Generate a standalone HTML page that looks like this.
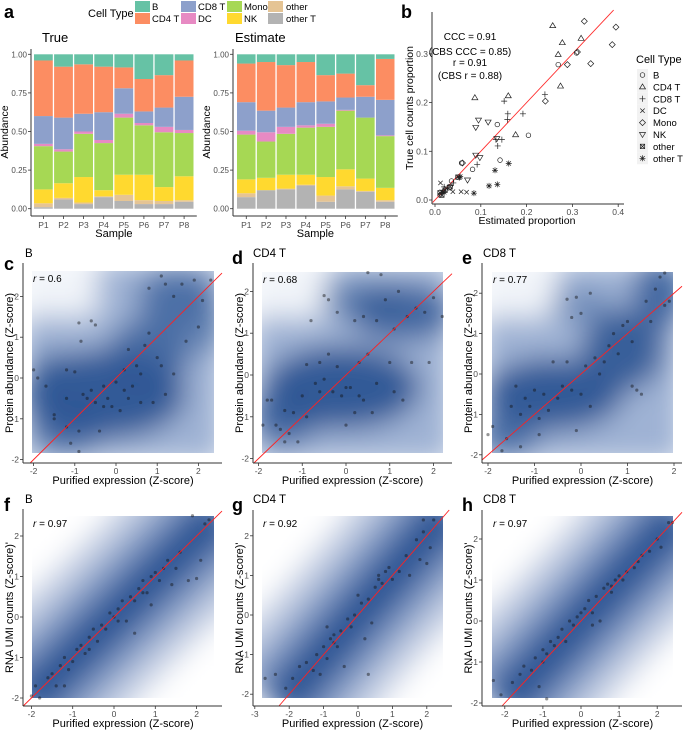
<!DOCTYPE html>
<html><head><meta charset="utf-8">
<style>
html,body{margin:0;padding:0;background:#fff;overflow:hidden;width:683px;height:732px;}
svg{display:block;font-family:"Liberation Sans",Arial,sans-serif;overflow:hidden;}
</style></head>
<body>
<svg id="fig" width="683" height="732" viewBox="0 0 683 732" xmlns="http://www.w3.org/2000/svg">
<defs>
<filter id="blur" filterUnits="userSpaceOnUse" x="0" y="0" width="683" height="732"><feGaussianBlur stdDeviation="14"/></filter>
</defs>
</svg>
<script>
// ---------- Panel a data ----------
const cellTypes = ["other T","other","NK","Mono","DC","CD8 T","CD4 T","B"];
const cellColors = ["#b3b3b3","#e5c494","#ffd92f","#a6d854","#e78ac3","#8da0cb","#fc8d62","#66c2a5"];
const samples = ["P1","P2","P3","P4","P5","P6","P7","P8"];
const trueCum = [
 [0.01,0.035,0.125,0.405,0.42,0.60,0.96,1],
 [0.06,0.07,0.165,0.37,0.385,0.59,0.92,1],
 [0.03,0.04,0.205,0.485,0.50,0.615,0.935,1],
 [0.075,0.08,0.12,0.425,0.445,0.625,0.92,1],
 [0.05,0.09,0.22,0.59,0.615,0.78,0.915,1],
 [0.03,0.055,0.22,0.54,0.555,0.63,0.84,1],
 [0.03,0.05,0.14,0.495,0.53,0.655,0.865,1],
 [0.045,0.055,0.21,0.49,0.51,0.725,0.96,1]];
const estCum = [
 [0.075,0.10,0.19,0.48,0.505,0.69,0.94,1],
 [0.12,0.12,0.20,0.435,0.495,0.635,0.95,1],
 [0.125,0.13,0.22,0.485,0.53,0.655,0.93,1],
 [0.15,0.155,0.22,0.525,0.54,0.69,0.95,1],
 [0.045,0.085,0.205,0.53,0.55,0.695,0.865,1],
 [0.125,0.145,0.255,0.635,0.64,0.72,0.875,1],
 [0.11,0.115,0.195,0.59,0.59,0.725,0.80,1],
 [0.045,0.055,0.135,0.47,0.475,0.705,0.97,1]];
const barTicks = [0,0.25,0.5,0.75,1];
const barTickLabels = ["0.00","0.25","0.50","0.75","1.00"];
// ---------- Panel b data ----------
const bB = [[0.136,0.155],[0.204,0.133],[0.142,0.082],[0.082,0.063],[0.036,0.039],[0.018,0.017],[0.011,0.010],[0.269,0.278],[0.309,0.302],[0.058,0.076]];
const bCD4 = [[0.257,0.358],[0.319,0.332],[0.278,0.323],[0.269,0.299],[0.274,0.234],[0.087,0.210],[0.160,0.214],[0.176,0.134]];
const bCD8 = [[0.240,0.217],[0.151,0.203],[0.159,0.177],[0.158,0.165],[0.192,0.177],[0.133,0.124],[0.146,0.124],[0.137,0.111],[0.092,0.073],[0.040,0.035],[0.020,0.027]];
const bDC = [[0.012,0.035],[0.057,0.017],[0.069,0.016],[0.039,0.017],[0.015,0.017],[0.025,0.024]];
const bMono = [[0.326,0.367],[0.395,0.355],[0.387,0.319],[0.311,0.304],[0.340,0.280],[0.289,0.278],[0.241,0.203],[0.060,0.076]];
const bNK = [[0.095,0.164],[0.116,0.160],[0.089,0.149],[0.089,0.092],[0.098,0.087],[0.135,0.126],[0.071,0.041],[0.033,0.026]];
const bOther = [[0.015,0.010],[0.022,0.020],[0.033,0.027],[0.011,0.015],[0.050,0.047]];
const bOtherT = [[0.161,0.075],[0.131,0.061],[0.136,0.032],[0.118,0.029],[0.085,0.014],[0.055,0.048],[0.053,0.046],[0.020,0.016]];
const bTicks = [0,0.1,0.2,0.3,0.4];
const bTickLabels = ["0.0","0.1","0.2","0.3","0.4"];
const bLegendLabels = ["B","CD4 T","CD8 T","DC","Mono","NK","other","other T"];
// ---------- Density panel data ----------
const ptsC = [[-2,0.2],[-1.9,0],[-1.7,-0.2],[-1.5,-0.9],[-1.5,-1],[-1.2,-1.2],[-1.1,-1.6],[-0.9,-1.8],[-0.9,-1.3],[-1.2,0.2],[-1,0.15],[-0.9,1.35],[-0.85,0.9],[-0.6,1.4],[-0.5,1.3],[-0.7,-0.5],[-0.6,-0.3],[-0.5,-0.6],[-0.3,-0.2],[-0.2,-0.5],[0,-0.1],[0.1,-0.8],[0.2,0.2],[0.3,-0.5],[0.4,-0.2],[0.5,0.3],[0.6,-0.6],[0.7,0.8],[0.8,1.1],[0.9,-0.6],[1,0.5],[1.1,0.3],[1.2,-0.4],[1.4,0.1],[0.8,2.2],[1.1,2.5],[1.2,2.3],[1.4,2.0],[1.6,2.3],[1.9,2.4],[2.1,1.9],[2.3,2.4],[2,1.25],[1.7,0.9],[-0.4,-1.3],[-1.2,-0.5],[0.3,0.7],[0.6,0.1],[-0.1,-0.7],[-0.8,-0.4],[-0.3,-0.7],[0.2,-0.3]];
const ptsD = [[-1.9,-1.2],[-1.8,-0.6],[-1.7,-0.6],[-1.6,-1.2],[-1.5,-1.3],[-1.4,-1.6],[-1.4,-0.85],[-1.3,-1.4],[-1.2,-0.9],[-1.1,-1.6],[-1,-0.5],[-0.9,-1.0],[-0.9,0.25],[-0.7,-0.2],[-0.6,0.3],[-0.5,-0.1],[-0.4,0.5],[-0.3,-0.4],[-0.2,0.2],[-0.1,-0.5],[0,-1.2],[0.1,-0.3],[0.2,-0.9],[0.3,0.3],[0.4,-0.6],[0.5,0.5],[0.6,-0.9],[0.7,-0.2],[1,0.3],[1.1,-0.4],[1.3,-0.6],[1.5,0.3],[1.9,0.3],[-0.8,1.3],[-0.5,1.9],[-0.4,1.8],[0.2,1.3],[0.5,2.45],[0.8,2.4],[0.9,1.8],[1.2,2.0],[1.4,1.4],[1.6,1.6],[1.8,1.5],[2.0,1.85],[2.2,1.4],[0.4,1.4],[0.7,1.3],[-0.2,1.5],[1.1,1.1],[-0.6,-0.4],[0.0,-0.3],[0.3,-0.5]];
const ptsE = [[-2,-1.5],[-1.9,-1.3],[-1.7,-1.9],[-1.6,-1.6],[-1.5,-0.8],[-1.4,-0.3],[-1.3,-1.0],[-1.2,-0.6],[-1.1,-0.8],[-1,-0.4],[-0.9,-1.1],[-0.8,-0.5],[-0.7,-0.9],[-0.6,0.3],[-0.5,-0.6],[-0.4,-0.3],[-0.3,0.3],[-0.2,-0.4],[-0.1,-1.4],[0,-0.5],[0.1,0.2],[0.2,-0.8],[0.3,0.4],[0.5,0.3],[0.6,0.7],[0.7,1.0],[0.8,0.5],[0.9,1.2],[1,1.3],[1.1,-0.3],[1.2,-0.4],[1.3,-0.5],[1.1,0.8],[1.5,1.3],[1.6,2.1],[1.7,2.4],[1.8,1.7],[1.9,1.8],[1.8,2.5],[-0.3,1.85],[-0.2,1.4],[0,1.5],[0.2,2.0],[-0.1,1.9],[1.4,1.8],[0.4,0.0],[-1.3,-1.8],[-0.9,-1.5]];
const ptsF = [[-2,-1.95],[-1.9,-1.7],[-1.8,-2],[-1.6,-1.5],[-1.5,-1.4],[-1.4,-1.7],[-1.3,-1.2],[-1.2,-1.0],[-1.1,-1.3],[-1.0,-1.1],[-0.9,-0.8],[-0.8,-0.7],[-0.7,-0.9],[-0.6,-0.5],[-0.5,-0.3],[-0.4,-0.6],[-0.3,-0.2],[-0.2,-0.3],[-0.1,0.1],[0,0.0],[0.1,0.2],[0.2,0.4],[0.3,-0.1],[0.4,0.5],[0.5,0.4],[0.6,0.7],[0.7,0.9],[0.8,0.6],[0.9,1.0],[1.0,1.1],[1.1,0.9],[1.2,1.2],[1.3,1.4],[1.4,0.8],[1.5,1.2],[1.6,1.6],[1.8,0.9],[2.0,0.95],[2.1,1.4],[2.2,2.3],[2.3,2.4],[1.9,2.5],[-1.2,-1.7],[0.5,-0.4],[0.9,0.3],[-0.6,-0.8],[0.1,-0.1],[0.7,0.6]];
const ptsG = [[-2.7,-1.6],[-2.4,-1.5],[-2.1,-1.85],[-1.9,-1.6],[-1.7,-1.3],[-1.5,-1.2],[-1.3,-1.4],[-1.2,-1.0],[-1.1,-1.5],[-1.0,-0.8],[-0.9,-1.1],[-0.8,-0.6],[-0.7,-0.5],[-0.6,-0.8],[-0.5,-0.4],[-0.4,-1.3],[-0.3,-0.1],[-0.2,-0.3],[-0.1,0.0],[0,0.5],[0.1,0.3],[0.2,-0.6],[0.3,0.4],[0.4,-0.2],[0.5,0.7],[0.6,1.0],[0.7,0.8],[0.8,1.1],[0.9,1.2],[1.0,0.9],[1.2,1.1],[1.4,1.5],[1.5,1.0],[1.7,1.9],[1.8,1.4],[1.9,2.1],[2.0,1.3],[2.1,1.7],[2.2,2.4],[1.9,2.4],[0.3,-1.5],[-0.9,-0.3],[-0.7,-0.7],[0.6,0.9]];
const ptsH = [[-2.3,-1.45],[-2.1,-1.8],[-1.8,-1.5],[-1.6,-1.3],[-1.5,-1.1],[-1.3,-1.2],[-1.2,-0.9],[-1.1,-1.6],[-1.0,-0.7],[-0.9,-0.8],[-0.8,-0.5],[-0.7,-0.6],[-0.6,-0.4],[-0.5,-0.2],[-0.4,-0.5],[-0.3,0.0],[-0.2,-0.1],[-0.1,0.1],[0,0.2],[0.1,0.3],[0.2,0.5],[0.3,0.2],[0.4,0.6],[0.5,0.0],[0.6,0.8],[0.7,0.9],[0.8,0.7],[0.9,1.0],[1.0,1.1],[1.1,1.0],[1.2,1.2],[1.4,1.3],[1.5,1.45],[1.6,1.6],[1.8,1.7],[2.0,2.0],[2.1,1.8],[2.3,2.4],[2.4,2.4],[-0.9,-1.9],[0.3,-0.1],[-1.0,-1.0],[0.8,0.85]];
const rLabels = ["0.6","0.68","0.77","0.97","0.92","0.97"];
const densTicksY = [-2,-1,0,1,2];
const densTicksX = [-2,-1,0,1,2];
const densTicksXG = [-3,-2,-1,0,1,2];

const NS="http://www.w3.org/2000/svg";
const svg=document.getElementById('fig');
function mk(tag,attrs,parent,txt){const e=document.createElementNS(NS,tag);for(const k in attrs)e.setAttribute(k,attrs[k]);if(txt!==undefined)e.textContent=txt;(parent||svg).appendChild(e);return e;}
const GRAY="#4d4d4d", AX="#333";

// ---------- Panel a ----------
function panelA(){
  const g=mk('g',{});
  
  
  const t=mk('text',{x:4,y:18,'font-size':18,'font-weight':'bold'},g,'a');
  
  const lg=mk('g',{},g);
  
  mk('text',{x:88,y:17,'font-size':11},lg,'Cell Type');
  const legOrder=[7,6,5,4,3,2,1,0];
  legOrder.forEach((ci,i)=>{
    const col=Math.floor(i/2),row=i%2;
    const kx=[135,181,227,268][col], lx=[152,198,244,286][col];
    const ky=row===0?1:13;
    const e=mk('g',{},lg);
    
    mk('rect',{x:kx,y:ky,width:15,height:11,fill:cellColors[ci]},e);
    mk('text',{x:lx,y:ky+9,'font-size':9.5},e,cellTypes[ci]);
  });
  function stack(data,axX,barX0,step,title,titleX,name){
    const sg=mk('g',{},g);
    
    const y=v=>208.7-v*154.4;
    mk('text',{x:titleX,y:42,'font-size':13},sg,title);
    data.forEach((cum,si)=>{
      let prev=0;
      cum.forEach((top,ci)=>{
        const r=mk('rect',{x:barX0+si*step,y:y(top),width:step-1.3,height:Math.max(0,y(prev)-y(top)),fill:cellColors[ci]},sg);
        
        
        prev=top;
      });
      const cx=barX0+si*step+(step-1.3)/2;
      mk('line',{x1:cx,x2:cx,y1:216,y2:219,stroke:AX,'stroke-width':0.8},sg);
      mk('text',{x:cx,y:228,'font-size':8.5,fill:GRAY,'text-anchor':'middle'},sg,samples[si]);
    });
    const axR=barX0+8*step+2;
    mk('line',{x1:axX,x2:axX,y1:49,y2:216,stroke:AX,'stroke-width':1},sg);
    mk('line',{x1:axX,x2:axR,y1:216,y2:216,stroke:AX,'stroke-width':1},sg);
    barTicks.forEach((v,i)=>{
      mk('line',{x1:axX-3,x2:axX,y1:y(v),y2:y(v),stroke:AX,'stroke-width':0.8},sg);
      mk('text',{x:axX-4,y:y(v)+3,'font-size':8,fill:GRAY,'text-anchor':'end'},sg,barTickLabels[i]);
    });
    mk('text',{x:(axX+axR)/2,y:237,'font-size':11,'text-anchor':'middle'},sg,'Sample');
    mk('text',{x:0,y:0,'font-size':10.5,'text-anchor':'middle',transform:`translate(${axX-23},${132}) rotate(-90)`},sg,'Abundance');
  }
  stack(trueCum,31,34,20.1,'True',42,'chart-true');
  stack(estCum,233,237,19.85,'Estimate',235,'chart-estimate');
}
panelA();

// ---------- Panel b ----------
function panelB(){
  const g=mk('g',{});
  
  mk('text',{x:401,y:18,'font-size':18,'font-weight':'bold'},g,'b');
  const X=v=>435+v*458, Y=v=>200-v*487;
  const axL=432, axB=204;
  mk('line',{x1:axL,x2:axL,y1:12,y2:axB,stroke:AX},g);
  mk('line',{x1:axL,x2:624,y1:axB,y2:axB,stroke:AX},g);
  bTicks.forEach((v,i)=>{
    mk('line',{x1:X(v),x2:X(v),y1:axB,y2:axB+3,stroke:AX,'stroke-width':0.8},g);
    mk('text',{x:X(v),y:axB+11,'font-size':8.5,fill:GRAY,'text-anchor':'middle'},g,bTickLabels[i]);
    if(v<0.35){
      mk('line',{x1:axL-3,x2:axL,y1:Y(v),y2:Y(v),stroke:AX,'stroke-width':0.8},g);
      mk('text',{x:axL-4,y:Y(v)+3,'font-size':8.5,fill:GRAY,'text-anchor':'end'},g,bTickLabels[i]);
    }
  });
  mk('text',{x:527,y:224,'font-size':10.5,'text-anchor':'middle'},g,'Estimated proportion');
  mk('text',{x:0,y:0,'font-size':10.5,'text-anchor':'middle',transform:'translate(413,108) rotate(-90)'},g,'True cell counts proportion');
  const ann=["CCC = 0.91","(CBS CCC = 0.85)","r = 0.91","(CBS r = 0.88)"];
  [40,55,66,79].forEach((yy,i)=>mk('text',{x:470,y:yy,'font-size':10,'text-anchor':'middle'},g,ann[i]));
  const rl=mk('line',{x1:X(-0.005),y1:Y(-0.005),x2:X(0.39),y2:Y(0.39),stroke:'#ff2b2b','stroke-width':0.9},g);
  
  function sym(type,cx,cy,p){
    const s=3;const st={fill:'none',stroke:'#222','stroke-width':0.7};
    let e;
    if(type===0) e=mk('circle',Object.assign({cx,cy,r:2.3},st),p);
    else if(type===1) e=mk('polygon',Object.assign({points:`${cx},${cy-s} ${cx-s},${cy+2} ${cx+s},${cy+2}`},st),p);
    else if(type===2) e=mk('path',Object.assign({d:`M${cx-s} ${cy}H${cx+s}M${cx} ${cy-s}V${cy+s}`},st),p);
    else if(type===3) e=mk('path',Object.assign({d:`M${cx-2.2} ${cy-2.2}L${cx+2.2} ${cy+2.2}M${cx-2.2} ${cy+2.2}L${cx+2.2} ${cy-2.2}`},st),p);
    else if(type===4) e=mk('polygon',Object.assign({points:`${cx},${cy-s} ${cx+s},${cy} ${cx},${cy+s} ${cx-s},${cy}`},st),p);
    else if(type===5) e=mk('polygon',Object.assign({points:`${cx},${cy+s} ${cx-s},${cy-2} ${cx+s},${cy-2}`},st),p);
    else if(type===6){e=mk('g',{},p);mk('rect',Object.assign({x:cx-2.2,y:cy-2.2,width:4.4,height:4.4},st),e);mk('path',Object.assign({d:`M${cx-2.2} ${cy-2.2}L${cx+2.2} ${cy+2.2}M${cx-2.2} ${cy+2.2}L${cx+2.2} ${cy-2.2}`},st),e);}
    else {e=mk('path',Object.assign({d:`M${cx-s} ${cy}H${cx+s}M${cx} ${cy-s}V${cy+s}M${cx-2.2} ${cy-2.2}L${cx+2.2} ${cy+2.2}M${cx-2.2} ${cy+2.2}L${cx+2.2} ${cy-2.2}`},st),p);}
    return e;
  }
  [bB,bCD4,bCD8,bDC,bMono,bNK,bOther,bOtherT].forEach((arr,ti)=>{
    arr.forEach(d=>{
      const e=sym(ti,X(d[0]),Y(d[1]),g);
      
      
    });
  });
  const lg=mk('g',{},g);
  
  mk('text',{x:636,y:63,'font-size':11},lg,'Cell Type');
  bLegendLabels.forEach((lab,i)=>{
    const yy=75+i*11.9;
    mk('rect',{x:637,y:yy-6,width:11,height:11.9,fill:'#f2f2f2'},lg);
    sym(i,642.5,yy,lg);
    mk('text',{x:653,y:yy+3.5,'font-size':9.5},lg,lab);
  });
}
panelB();

// ---------- Density panels ----------
const panels=[
 {id:'c',title:'B',pts:ptsC,ax:23,at:263,ab:463,ar:222,x0:116,xu:41.2,y0:378,yu:40.8,rect:[32,271,214,453],xt:densTicksX,yl:'Protein abundance (Z-score)',lx:4,ly:270,tx:25,ty:257,diag:false,
  blobs:[[-0.3,-0.4,2.0,1.1,0.95],[1.5,2.0,1.0,0.7,0.7],[0.8,0.6,1.0,0.9,0.75],[-1.2,-1.2,0.9,0.7,0.7],[2.1,1.2,0.6,0.6,0.5],[-1.6,0.2,0.5,0.5,0.5]]},
 {id:'d',title:'CD4 T',pts:ptsD,ax:253,at:263,ab:463,ar:452,x0:346,xu:43.75,y0:375,yu:41.8,rect:[262,272,443,453],xt:densTicksX,yl:'Protein abundance (Z-score)',lx:232,ly:264,tx:253,ty:257,diag:false,
  blobs:[[-0.1,-0.3,1.8,1.0,0.95],[1.3,1.5,1.2,0.7,0.8],[-1.4,-1.0,0.8,0.7,0.8],[0.4,1.8,1.0,0.5,0.5]]},
 {id:'e',title:'CD8 T',pts:ptsE,ax:482,at:263,ab:463,ar:682,x0:581,xu:46.5,y0:374,yu:40.4,rect:[492,272,673,453],xt:densTicksX,yl:'Protein abundance (Z-score)',lx:462,ly:264,tx:483,ty:257,diag:false,
  blobs:[[-0.6,-0.5,1.5,0.9,0.95],[0.9,0.6,0.9,1.0,0.9],[1.7,2.0,0.6,0.9,0.8],[-1.6,-1.5,0.7,0.6,0.7],[0,1.7,0.7,0.4,0.4]]},
 {id:'f',title:'B',pts:ptsF,ax:23,at:509,ab:706,ar:222,x0:114,xu:41.3,y0:617,yu:40.5,rect:[32,516,214,698],xt:densTicksX,yl:"RNA UMI counts (Z-score)'",lx:4,ly:511,tx:25,ty:503,diag:true},
 {id:'g',title:'CD4 T',pts:ptsG,ax:253,at:510,ab:706,ar:452,x0:358,xu:34.4,y0:615,yu:39.6,rect:[262,516,443,698],xt:densTicksXG,yl:"RNA UMI counts (Z-score)'",lx:232,ly:511,tx:253,ty:503,diag:true},
 {id:'h',title:'CD8 T',pts:ptsH,ax:482,at:510,ab:706,ar:682,x0:581,xu:38.1,y0:621,yu:41,rect:[492,516,673,698],xt:densTicksX,yl:"RNA UMI counts (Z-score)'",lx:462,ly:511,tx:483,ty:503,diag:true}
];
panels.forEach((P,pi)=>{
  const g=mk('g',{});
  
  
  const X=v=>P.x0+v*P.xu, Y=v=>P.y0-v*P.yu;
  const Xi=px=>(px-P.x0)/P.xu, Yi=py=>(P.y0-py)/P.yu;
  // identity-line segment limited to a pixel box
  function diagSeg(x1,y1,x2,y2){
    const lo=Math.max(Xi(x1),Yi(y2)), hi=Math.min(Xi(x2),Yi(y1));
    return {x1:X(lo),y1:Y(lo),x2:X(hi),y2:Y(hi)};
  }
  const cid='clip'+P.id;
  const defs=mk('defs',{},g);
  const cp=mk('clipPath',{id:cid},defs);
  mk('rect',{x:P.rect[0],y:P.rect[1],width:P.rect[2]-P.rect[0],height:P.rect[3]-P.rect[1]},cp);
  const dg=mk('g',{'clip-path':`url(#${cid})`},g);
  
  const bl=mk('g',{filter:'url(#blur)'},dg);
  const BLUE='#2c5594';
  const rw=P.rect[2]-P.rect[0], rh=P.rect[3]-P.rect[1];
  if(P.diag){
    mk('rect',{x:P.rect[0],y:P.rect[1],width:rw,height:rh,fill:'#fff'},bl);
    const s=diagSeg(P.rect[0]-10,P.rect[1]-10,P.rect[2]+10,P.rect[3]+10);
    mk('line',Object.assign({stroke:'#c3cee3','stroke-width':150},s),bl);
    mk('line',Object.assign({stroke:'#7a94c1','stroke-width':95},s),bl);
    mk('line',Object.assign({stroke:BLUE,'stroke-width':45},s),bl);
  } else {
    mk('rect',{x:P.rect[0]-10,y:P.rect[1]-10,width:rw+20,height:rh+20,fill:'#9fb2d4'},bl);
    mk('rect',{x:P.rect[0]-10,y:P.rect[1]-10,width:75,height:55,fill:'#fff','fill-opacity':0.85},bl);
    P.blobs.forEach(b=>{
      mk('ellipse',{cx:X(b[0]),cy:Y(b[1]),rx:b[2]*P.xu,ry:b[3]*P.yu,fill:BLUE,'fill-opacity':b[4]},bl);
    });
  }
  const pg=mk('g',{},g);
  
  P.pts.forEach(d=>{
    const c=mk('circle',{cx:X(d[0]),cy:Y(d[1]),r:1.6,fill:'#111','fill-opacity':0.45},pg);
    
    
  });
  const rs=diagSeg(P.ax,P.at,P.ar,P.ab);
  const rl=mk('line',Object.assign({stroke:'#ff2020','stroke-width':0.9},rs),g);
  
  mk('line',{x1:P.ax,x2:P.ax,y1:P.at,y2:P.ab,stroke:AX,'stroke-width':1},g);
  mk('line',{x1:P.ax,x2:P.ar,y1:P.ab,y2:P.ab,stroke:AX,'stroke-width':1},g);
  densTicksY.forEach(v=>{
    mk('line',{x1:P.ax-3,x2:P.ax,y1:Y(v),y2:Y(v),stroke:AX,'stroke-width':0.8},g);
    mk('text',{x:P.ax-4,y:Y(v)+3,'font-size':8.5,fill:GRAY,'text-anchor':'end'},g,String(v));
  });
  P.xt.forEach(v=>{
    mk('line',{x1:X(v),x2:X(v),y1:P.ab,y2:P.ab+3,stroke:AX,'stroke-width':0.8},g);
    mk('text',{x:X(v),y:P.ab+11,'font-size':8.5,fill:GRAY,'text-anchor':'middle'},g,String(v));
  });
  mk('text',{x:(P.rect[0]+P.rect[2])/2,y:P.ab+21,'font-size':11,'text-anchor':'middle'},g,'Purified expression (Z-score)');
  mk('text',{x:0,y:0,'font-size':11,'text-anchor':'middle',transform:`translate(${P.ax-10},${(P.at+P.ab)/2}) rotate(-90)`},g,P.yl);
  mk('text',{x:P.lx,y:P.ly,'font-size':18,'font-weight':'bold'},g,P.id);
  mk('text',{x:P.tx,y:P.ty,'font-size':11.5},g,P.title);
  const rt=mk('text',{x:P.rect[0]+1,y:P.rect[1]+11,'font-size':10},g);
  mk('tspan',{'font-style':'italic'},rt,'r');
  mk('tspan',{},rt,' = '+rLabels[pi]);
});
</script>
</body></html>
